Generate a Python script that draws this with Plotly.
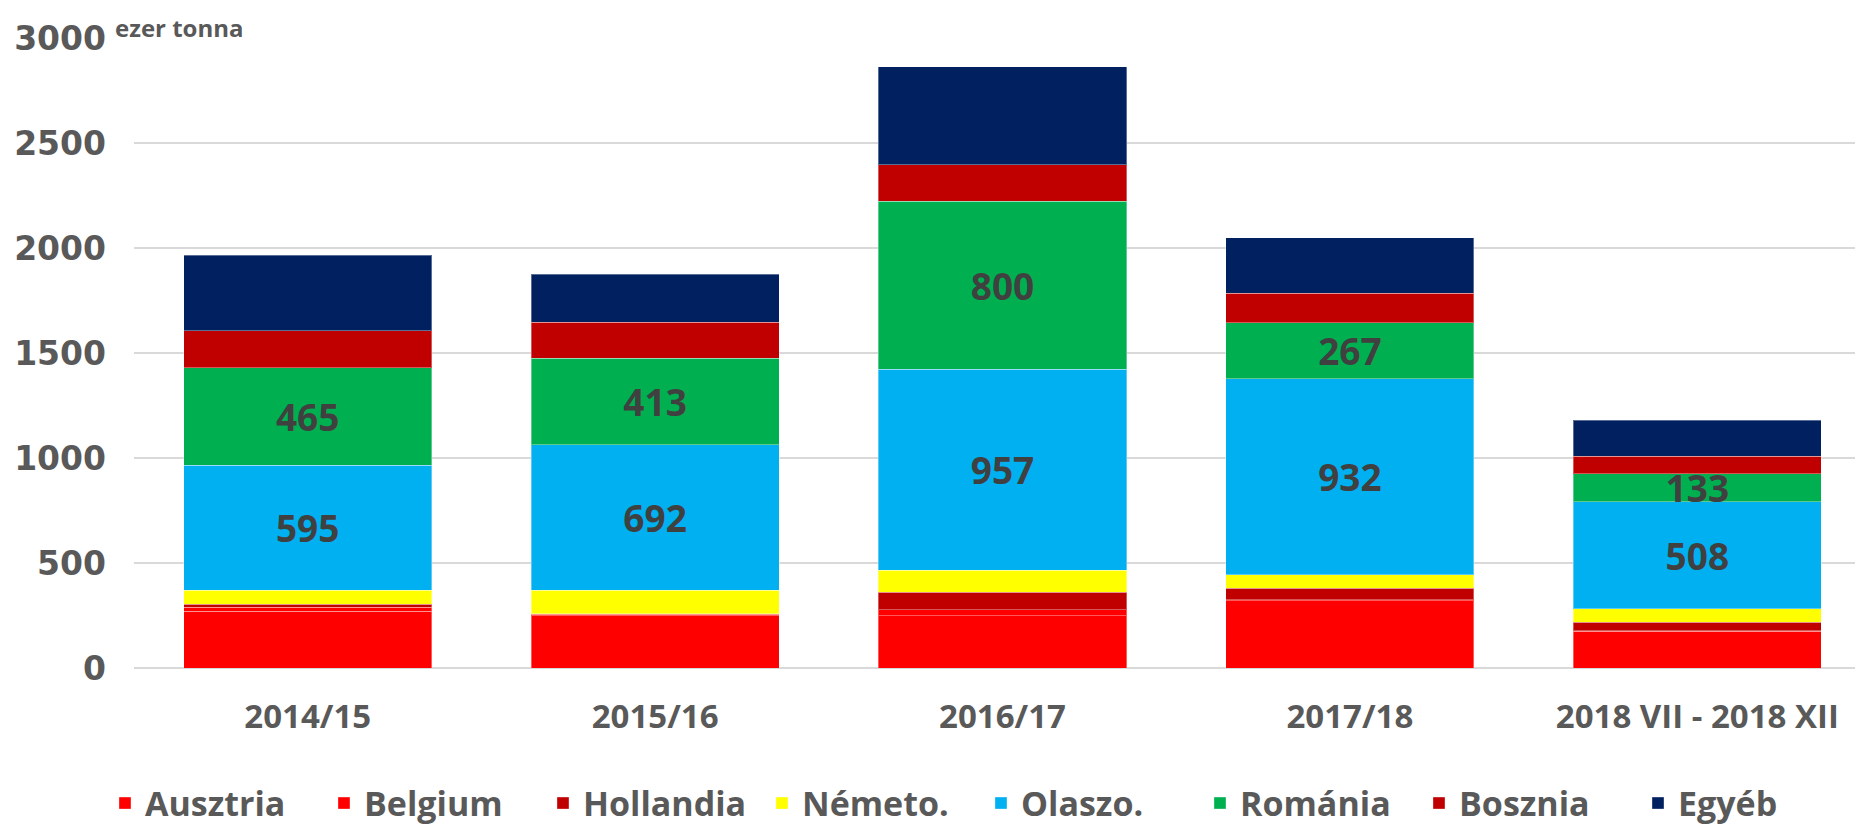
import plotly.graph_objects as go

categories = ["2014/15", "2015/16", "2016/17", "2017/18", "2018 VII - 2018 XII"]

ausztria = [270, 250, 250, 320, 175]
belgium = [19, 5, 28, 5, 3]
hollandia = [14, 3, 82, 55, 40]
nemeto = [67, 113, 105, 65, 65]
olaszo = [595, 692, 957, 932, 508]
romania = [465, 413, 800, 267, 133]
bosznia = [175, 170, 175, 140, 85]
egyeb = [360, 230, 465, 265, 170]

series_names = ["Ausztria", "Belgium", "Hollandia", "Németo.", "Olaszo.", "Románia", "Bosznia", "Egyéb"]
series_values = [ausztria, belgium, hollandia, nemeto, olaszo, romania, bosznia, egyeb]
series_colors = ["#FF0000", "#FF0000", "#C00000", "#FFFF00", "#00B0F0", "#00B050", "#C00000", "#002060"]
labelled = {"Olaszo.", "Románia"}

FONT = "Open Sans"
TICKFONT = "DejaVu Sans"
GRAY = "#595959"

fig = go.Figure()
for name, vals, col in zip(series_names, series_values, series_colors):
    if name in labelled:
        kw = dict(
            text=[str(v) for v in vals],
            textposition="inside",
            insidetextanchor="middle",
            textangle=0,
            constraintext="none",
            textfont=dict(family=FONT, size=37, color="#404040", weight="bold"),
        )
    else:
        kw = dict(textposition="none")
    fig.add_trace(go.Bar(
        x=categories, y=vals, name=name,
        marker=dict(color=col, line=dict(color="rgba(255,255,255,0.35)", width=1)),
        hoverinfo="x+y+name",
        **kw,
    ))

fig.update_layout(
    barmode="stack",
    bargap=0.286,
    width=1863, height=825,
    margin=dict(l=126, r=0, t=30, b=162),
    paper_bgcolor="white",
    plot_bgcolor="white",
    font=dict(family=FONT, color=GRAY, weight="bold"),
    showlegend=True,
    legend=dict(
        orientation="h",
        x=-0.0167, xanchor="left",
        y=-0.215, yanchor="middle",
        font=dict(family=FONT, size=34, color=GRAY, weight="bold"),
        traceorder="normal",
        itemwidth=30,
        entrywidth=174, entrywidthmode="pixels",
    ),
    xaxis=dict(
        tickfont=dict(family=FONT, size=33, color=GRAY, weight="bold"),
        showline=False, ticks="", ticklabelstandoff=26,
    ),
    yaxis=dict(
        range=[0, 3000], dtick=500,
        tickfont=dict(family=TICKFONT, size=33, color=GRAY, weight="bold"),
        gridcolor="#D9D9D9", gridwidth=2,
        zeroline=True, zerolinecolor="#D9D9D9", zerolinewidth=2,
        showline=False, ticks="", ticklabelstandoff=27,
    ),
    annotations=[dict(
        text="ezer tonna", xref="paper", yref="paper",
        x=-0.012, y=1.016, xanchor="left", yanchor="middle",
        showarrow=False,
        font=dict(family=FONT, size=24, color=GRAY, weight="bold"),
    )],
)

fig.write_html("out.html")
